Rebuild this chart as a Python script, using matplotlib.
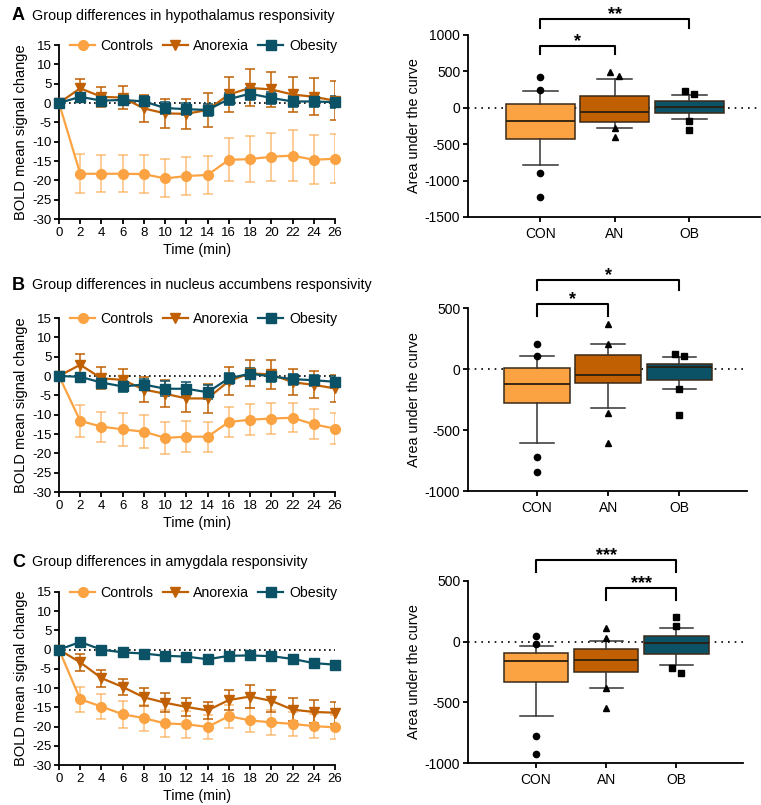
import matplotlib
matplotlib.use("Agg")
import matplotlib.pyplot as plt

plt.rcParams['font.family'] = ['Liberation Sans', 'DejaVu Sans']
plt.rcParams['axes.unicode_minus'] = False

time = [0, 2, 4, 6, 8, 10, 12, 14, 16, 18, 20, 22, 24, 26]
groups = ["Controls", "Anorexia", "Obesity"]
box_labels = ["CON", "AN", "OB"]
colors = ["#FBA342", "#C06002", "#0C5266"]
line_markers = ["o", "v", "s"]
point_markers = ["o", "^", "s"]

titles = ["Group differences in hypothalamus responsivity",
          "Group differences in nucleus accumbens responsivity",
          "Group differences in amygdala responsivity"]
letters = ["A", "B", "C"]

# mean BOLD change per panel, per group
hyp_mean = [
    [0, -18.3, -18.3, -18.3, -18.4, -19.5, -18.9, -18.6, -14.7, -14.5, -13.9, -13.6, -14.7, -14.4],
    [0, 3.8, 1.6, 1.4, -1.4, -2.7, -2.8, -1.8, 2.2, 3.9, 3.5, 2.2, 1.6, 0.6],
    [0, 1.6, 0.6, 0.8, 0.4, -1.3, -1.6, -1.8, 1.0, 2.4, 1.3, 0.4, 0.4, 0.2],
]
hyp_err = [
    [0, 5.0, 4.8, 4.8, 4.9, 4.9, 5.0, 5.0, 5.6, 5.9, 6.2, 6.5, 6.3, 6.3],
    [0, 2.3, 2.6, 3.0, 3.4, 3.8, 3.9, 4.4, 4.4, 4.8, 4.5, 4.5, 4.8, 5.0],
    [0, 1.0, 1.2, 1.2, 1.3, 1.5, 1.5, 1.5, 1.5, 1.6, 1.5, 1.5, 1.5, 1.5],
]
nac_mean = [
    [0, -11.6, -13.1, -13.8, -14.4, -16.0, -15.7, -15.7, -11.9, -11.3, -11.0, -10.8, -12.5, -13.6],
    [0, 2.9, -0.6, -1.0, -3.5, -4.6, -5.8, -5.8, -1.3, 0.7, 0.4, -1.6, -2.3, -3.2],
    [0, -0.2, -1.7, -2.7, -2.2, -3.3, -3.3, -4.2, -0.6, 0.6, -0.1, -0.8, -1.1, -1.5],
]
nac_err = [
    [0, 4.1, 3.9, 4.3, 4.2, 4.2, 4.0, 3.9, 3.9, 4.0, 4.0, 3.8, 3.9, 4.0],
    [0, 2.7, 2.8, 2.9, 3.2, 3.5, 3.5, 3.7, 3.6, 3.4, 3.7, 3.4, 3.5, 3.5],
    [0, 1.0, 1.5, 1.4, 1.5, 2.0, 1.8, 1.8, 1.5, 1.5, 1.5, 1.4, 1.4, 1.5],
]
amy_mean = [
    [0, -12.9, -14.8, -16.8, -17.8, -19.2, -19.4, -20.1, -17.3, -18.4, -18.9, -19.3, -19.9, -20.2],
    [0, -3.3, -7.4, -9.7, -12.4, -13.8, -14.9, -15.8, -13.1, -12.2, -13.3, -15.6, -16.2, -16.4],
    [0, 2.0, 0.0, -0.7, -1.0, -1.6, -1.8, -2.5, -1.6, -1.5, -1.7, -2.4, -3.5, -3.9],
]
amy_err = [
    [0, 3.2, 3.3, 3.5, 3.4, 3.6, 3.5, 3.1, 3.0, 3.1, 3.2, 3.1, 3.1, 3.1],
    [0, 2.3, 2.2, 2.2, 2.3, 2.4, 2.3, 2.3, 2.5, 2.9, 2.9, 3.0, 3.0, 2.9],
    [0, 0.5, 0.5, 0.5, 0.5, 0.5, 0.5, 0.5, 0.5, 0.5, 0.5, 0.5, 0.5, 0.5],
]

# area under the curve box stats: whislo, q1, med, q3, whishi
hyp_box = [[-785, -428, -177, 57, 235], [-273, -200, -53, 167, 400], [-152, -71, 16, 89, 180]]
hyp_pts = [[420, 240, -900, -1225], [498, 435, -273, -396], [230, 194, -185, -305]]
nac_box = [[-605, -275, -127, 9, 104], [-316, -112, -46, 115, 202], [-166, -92, 20, 42, 99]]
nac_pts = [[202, 104, -722, -842], [372, 202, -359, -610], [126, 109, -166, -373]]
amy_box = [[-610, -335, -157, -91, -36], [-379, -250, -148, -58, 8], [-190, -104, -8, 49, 115]]
amy_pts = [[44, -16, -775, -929], [115, 27, -385, -549], [203, 132, -217, -255]]

# significance brackets: (group a, group b, label)
hyp_sig = [(0, 1, "*"), (0, 2, "**")]
nac_sig = [(0, 1, "*"), (0, 2, "*")]
amy_sig = [(1, 2, "***"), (0, 2, "***")]

# bracket bar heights / leg ends (in AUC units)
hyp_brk = [(853, 739), (1215, 1091)]
nac_brk = [(535, 434), (731, 644)]
amy_brk = [(445, 341), (676, 571)]

panels = [
    (hyp_mean, hyp_err, hyp_box, hyp_pts, hyp_sig, hyp_brk, (-1500, 1000)),
    (nac_mean, nac_err, nac_box, nac_pts, nac_sig, nac_brk, (-1000, 500)),
    (amy_mean, amy_err, amy_box, amy_pts, amy_sig, amy_brk, (-1000, 500)),
]

W, H = 761, 805
fig = plt.figure(figsize=(W / 100, H / 100), dpi=100)

line_rows = [(45, 219), (318, 492), (592, 765)]
box_rows = [(35, 217, 760), (308, 491, 747), (581, 763, 743)]
title_y = [16, 285, 562]


def style_axes(ax):
    for s in ["top", "right"]:
        ax.spines[s].set_visible(False)
    for s in ["left", "bottom"]:
        ax.spines[s].set_linewidth(1.3)
    ax.tick_params(width=1.3, length=3.5, labelsize=9.5, pad=2)


for i, (means, errs, box, pts, sig, brk, ylim) in enumerate(panels):
    fig.text(12 / W, 1 - title_y[i] / H, letters[i], fontsize=13, fontweight="heavy", va="center")
    fig.text(32 / W, 1 - title_y[i] / H, titles[i], fontsize=10.3, va="center")

    top, bot = line_rows[i]
    ax = fig.add_axes([59 / W, 1 - bot / H, 276 / W, (bot - top) / H])
    ax.axhline(0, color="black", ls=(0, (1, 2)), lw=1.2, zorder=0)
    for g in range(3):
        eb = ax.errorbar(time, means[g], yerr=errs[g], color=colors[g], ecolor=colors[g],
                         elinewidth=1.1, capsize=3.5, capthick=1.1, lw=0, zorder=1 + g)
        if g == 0:
            for art in list(eb.lines[1]) + list(eb.lines[2]):
                art.set_alpha(0.7)
        ax.plot(time, means[g], color=colors[g], marker=line_markers[g],
                markersize=6.5 if g == 2 else 7, lw=1.6, label=groups[g],
                clip_on=False, zorder=4 + g)
    ax.set_xlim(0, 26)
    ax.set_ylim(-30, 15)
    ax.set_xticks(time)
    ax.set_yticks(range(-30, 16, 5))
    ax.set_xlabel("Time (min)", fontsize=10.3, labelpad=3)
    ax.set_ylabel("BOLD mean signal change", fontsize=10.5, labelpad=3)
    style_axes(ax)
    ax.legend(loc="center", bbox_to_anchor=(0.524, 0.995), ncol=3, frameon=False,
              fontsize=10.2, handlelength=1.75, columnspacing=0.65, handletextpad=0.4,
              borderaxespad=0, borderpad=0)

    btop, bbot, bright = box_rows[i]
    bx = fig.add_axes([468 / W, 1 - bbot / H, (bright - 468) / W, (bbot - btop) / H])
    bx.axhline(0, color="black", ls=(0, (1, 3)), lw=1.2, zorder=0)
    stats = []
    for g in range(3):
        lo, q1, med, q3, hi = box[g]
        stats.append(dict(whislo=lo, q1=q1, med=med, q3=q3, whishi=hi, fliers=[], label=box_labels[g]))
    bp = bx.bxp(stats, positions=[0, 1, 2], widths=0.92, patch_artist=True, showfliers=False,
                boxprops=dict(linewidth=1.1, edgecolor="#3a2a18"),
                medianprops=dict(color="#2a1f10", linewidth=1.3),
                whiskerprops=dict(color="#333333", linewidth=1.1),
                capprops=dict(color="#333333", linewidth=1.1), capwidths=0.47)
    for patch, c in zip(bp["boxes"], colors):
        patch.set_facecolor(c)
        patch.set_zorder(2)
    span = ylim[1] - ylim[0]
    for g in range(3):
        vals = pts[g]
        for k, v in enumerate(vals):
            dx = 0
            for m, w in enumerate(vals):
                if m != k and abs(v - w) < span * 0.03:
                    dx = -0.06 if v > w else 0.06
            bx.plot(g + dx, v, marker=point_markers[g], markersize=4.5,
                    color="black", ls="none", zorder=5, clip_on=False)
    bx.set_xlim(-0.97, 2.95)
    bx.set_ylim(*ylim)
    bx.set_yticks(range(ylim[0], ylim[1] + 1, 500))
    bx.set_xticks([0, 1, 2])
    bx.set_xticklabels(box_labels)
    bx.set_ylabel("Area under the curve", fontsize=10.4, labelpad=3)
    style_axes(bx)
    bx.tick_params(axis="y", labelsize=10)
    bx.tick_params(axis="x", labelsize=10, pad=4)

    # brackets
    for (a, b, lab), (y_top, y_leg) in zip(sig, brk):
        bx.plot([a, a, b, b], [y_leg, y_top, y_top, y_leg], color="black",
                lw=1.5, clip_on=False)
        bx.text((a + b) / 2, y_top + span * 0.025, lab, ha="center", va="center",
                fontsize=13, fontweight="bold", clip_on=False)

fig.savefig("out.png", dpi=100)
